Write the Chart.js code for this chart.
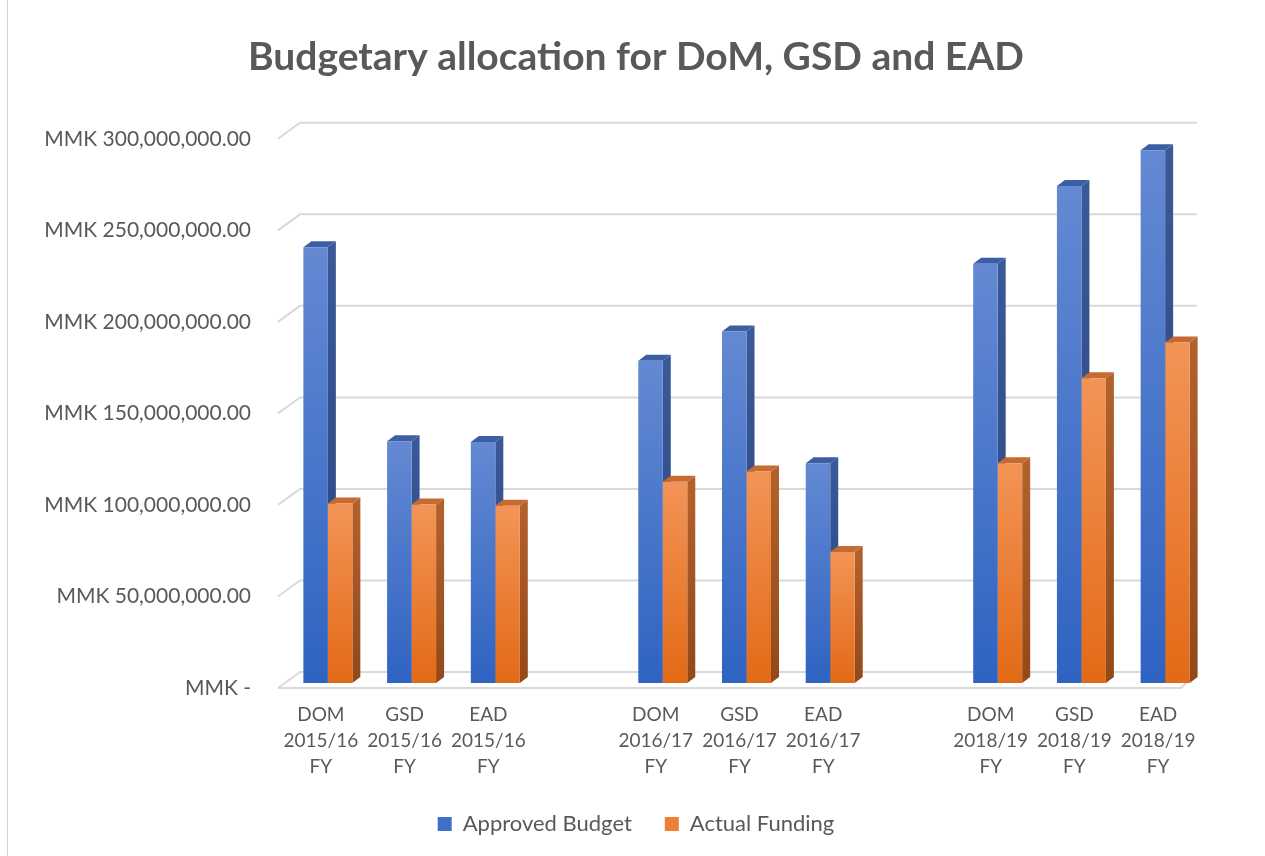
<!DOCTYPE html>
<html>
<head>
<meta charset="utf-8">
<script src="https://cdn.jsdelivr.net/npm/chart.js@4"></script>
<style>
  body { margin: 0; background: #fff; }
  #wrap { position: relative; width: 1265px; height: 856px; }
  #frame { position: absolute; left: 7px; top: 0; width: 1258px; height: 856px; border-left: 1px solid #d0d0d0; box-sizing: border-box; pointer-events: none; }
</style>
</head>
<body>
<div id="wrap">
  <canvas id="myChart" width="1265" height="856"></canvas>
  <div id="frame"></div>
</div>
<script>
// categories (empty slots are the gaps between years)
const categories = [
    ['DOM', '2015/16', 'FY'], ['GSD', '2015/16', 'FY'], ['EAD', '2015/16', 'FY'], '',
    ['DOM', '2016/17', 'FY'], ['GSD', '2016/17', 'FY'], ['EAD', '2016/17', 'FY'], '',
    ['DOM', '2018/19', 'FY'], ['GSD', '2018/19', 'FY'], ['EAD', '2018/19', 'FY']
];
const approvedBudget = [238000000, 132000000, 131700000, null, 176000000, 192000000, 120000000, null, 229000000, 271500000, 291000000];
const actualFunding = [98000000, 97500000, 96800000, null, 110000000, 115500000, 71600000, null, 120000000, 166500000, 186000000];
const yTicks = [0, 50000000, 100000000, 150000000, 200000000, 250000000, 300000000];

const textColor = '#595959';
const gridColor = '#d9d9d9';
const DX = 8, DY = 6;

function frontFill(light, dark) {
    return function(ctx) {
        if (ctx.type !== 'data' || ctx.raw == null) return dark;
        const y = ctx.chart.scales.y;
        const top = y.getPixelForValue(ctx.raw);
        const bot = y.getPixelForValue(0);
        if (!isFinite(top) || !isFinite(bot)) return dark;
        const g = ctx.chart.ctx.createLinearGradient(0, top, 0, bot);
        g.addColorStop(0, light);
        g.addColorStop(1, dark);
        return g;
    };
}

const sideColors = [
    { side1: '#3b5897', side2: '#27467f', cap: '#3c5ea3' },
    { side1: '#b3612c', side2: '#93481a', cap: '#c66a31' }
];

// back wall gridlines, floor, then side and top faces of the bars (fronts are drawn by chart.js over them)
const depthFaces = {
    id: 'depthFaces',
    beforeDatasetsDraw(chart) {
        const c = chart.ctx;
        const a = chart.chartArea;
        const ys = chart.scales.y;
        c.save();
        c.strokeStyle = gridColor;
        c.lineWidth = 2;
        yTicks.forEach(function(v) {
            const y = ys.getPixelForValue(v);
            c.beginPath();
            c.moveTo(a.left - 8, y + 5);
            c.lineTo(a.left + 14, y - 11);
            c.lineTo(a.right - 10, y - 11);
            c.stroke();
            if (v === 0) {
                c.beginPath();
                c.moveTo(a.left - 8, y + 5);
                c.lineTo(a.right - 26, y + 5);
                c.lineTo(a.right - 10, y - 11);
                c.stroke();
            }
        });

        chart.data.datasets.forEach(function(ds, d) {
            const col = sideColors[d];
            chart.getDatasetMeta(d).data.forEach(function(bar, i) {
                if (ds.data[i] == null) return;
                const p = bar.getProps(['x', 'y', 'base', 'width'], true);
                const l = p.x - p.width / 2, r = p.x + p.width / 2;
                const g = c.createLinearGradient(0, p.y, 0, p.base);
                g.addColorStop(0, col.side1);
                g.addColorStop(1, col.side2);
                c.fillStyle = g;
                c.beginPath();
                c.moveTo(r, p.y);
                c.lineTo(r + DX, p.y - DY);
                c.lineTo(r + DX, p.base - DY);
                c.lineTo(r, p.base);
                c.closePath();
                c.fill();
                c.fillStyle = col.cap;
                c.beginPath();
                c.moveTo(l, p.y);
                c.lineTo(l + DX, p.y - DY);
                c.lineTo(r + DX, p.y - DY);
                c.lineTo(r, p.y);
                c.closePath();
                c.fill();
            });
        });
        c.restore();
    }
};

function makeBarChart() {
    const data = {
        labels: categories,
        datasets: [{
            label: 'Approved Budget',
            data: approvedBudget,
            backgroundColor: frontFill('#6489d2', '#2f63c2')
        }, {
            label: 'Actual Funding',
            data: actualFunding,
            backgroundColor: frontFill('#f39457', '#e26a16')
        }]
    };

    const config = {
        type: 'bar',
        data: data,
        plugins: [depthFaces],
        options: {
            responsive: false,
            animation: false,
            categoryPercentage: 0.585,
            barPercentage: 1,
            layout: { padding: { left: 7, right: 0, bottom: 11 } },
            plugins: {
                title: {
                    display: true,
                    text: 'Budgetary allocation for DoM, GSD and EAD',
                    color: textColor,
                    font: { family: 'Lato', size: 39, weight: 'bold' },
                    padding: { top: 34, bottom: 53 }
                },
                legend: {
                    position: 'bottom',
                    labels: {
                        color: textColor,
                        font: { family: 'Lato', size: 22 },
                        boxWidth: 14,
                        boxHeight: 14,
                        padding: 33,
                        generateLabels: function(chart) {
                            return chart.data.datasets.map(function(ds, i) {
                                return {
                                    text: ds.label,
                                    fillStyle: i === 0 ? '#3f6fc9' : '#ef8036',
                                    strokeStyle: 'rgba(0,0,0,0)',
                                    lineWidth: 0,
                                    fontColor: textColor,
                                    datasetIndex: i
                                };
                            });
                        }
                    }
                },
                tooltip: { enabled: false }
            },
            scales: {
                x: {
                    grid: { display: false, drawTicks: false },
                    border: { display: false },
                    ticks: {
                        color: textColor,
                        font: { family: 'Lato', size: 19, lineHeight: 1.37 },
                        padding: 19,
                        labelOffset: -7,
                        maxRotation: 0,
                        autoSkip: false
                    },
                    afterFit: function(scale) { scale.height = 97; }
                },
                y: {
                    min: 0,
                    max: 300000000,
                    grid: { display: false, drawTicks: false },
                    border: { display: false },
                    afterBuildTicks: function(scale) {
                        scale.ticks = yTicks.map(function(v) { return { value: v }; });
                    },
                    ticks: {
                        color: textColor,
                        font: { family: 'Lato', size: 21 },
                        padding: 35,
                        labelOffset: 5,
                        callback: function(v) {
                            if (v === 0) return 'MMK -';
                            return 'MMK ' + v.toLocaleString('en-US', { minimumFractionDigits: 2, maximumFractionDigits: 2 });
                        }
                    },
                    afterFit: function(scale) { scale.width = 279; }
                },
                // empty right-hand axis, only keeps room on the right of the plot
                yRight: {
                    position: 'right',
                    min: 0,
                    max: 300000000,
                    grid: { display: false, drawTicks: false },
                    border: { display: false },
                    ticks: { display: false },
                    afterFit: function(scale) { scale.width = 58; }
                }
            }
        }
    };

    const myChart = new Chart(document.getElementById('myChart'), config);
}

window.onload = function() {
    makeBarChart();
};
</script>
</body>
</html>
